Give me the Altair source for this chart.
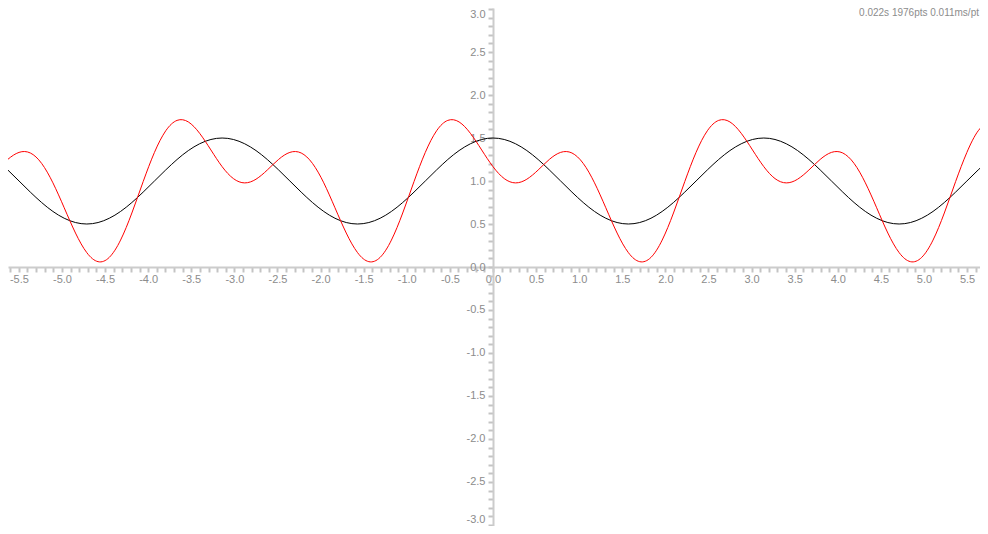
import altair as alt
import pandas as pd

# sample positions (x)
x_values = [-5.760, -5.629, -5.498, -5.367, -5.236, -5.105, -4.974, -4.843, -4.712, -4.581,
            -4.451, -4.320, -4.189, -4.058, -3.927, -3.796, -3.665, -3.534, -3.403, -3.272,
            -3.142, -3.011, -2.880, -2.749, -2.618, -2.487, -2.356, -2.225, -2.094, -1.963,
            -1.833, -1.702, -1.571, -1.440, -1.309, -1.178, -1.047, -0.916, -0.785, -0.654,
            -0.524, -0.393, -0.262, -0.131, 0.000, 0.131, 0.262, 0.393, 0.524, 0.654,
            0.785, 0.916, 1.047, 1.178, 1.309, 1.440, 1.571, 1.702, 1.833, 1.963,
            2.094, 2.225, 2.356, 2.487, 2.618, 2.749, 2.880, 3.011, 3.142, 3.272,
            3.403, 3.534, 3.665, 3.796, 3.927, 4.058, 4.189, 4.320, 4.451, 4.581,
            4.712, 4.843, 4.974, 5.105, 5.236, 5.367, 5.498, 5.629, 5.760]

black_values = [1.25, 1.129, 1.0, 0.871, 0.75, 0.646, 0.567, 0.517, 0.5, 0.517,
                0.567, 0.646, 0.75, 0.871, 1.0, 1.129, 1.25, 1.354, 1.433, 1.483,
                1.5, 1.483, 1.433, 1.354, 1.25, 1.129, 1.0, 0.871, 0.75, 0.646,
                0.567, 0.517, 0.5, 0.517, 0.567, 0.646, 0.75, 0.871, 1.0, 1.129,
                1.25, 1.354, 1.433, 1.483,
                1.5, 1.483, 1.433, 1.354, 1.25, 1.129, 1.0, 0.871, 0.75, 0.646,
                0.567, 0.517, 0.5, 0.517, 0.567, 0.646, 0.75, 0.871, 1.0, 1.129,
                1.25, 1.354, 1.433, 1.483,
                1.5, 1.483, 1.433, 1.354, 1.25, 1.129, 1.0, 0.871, 0.75, 0.646,
                0.567, 0.517, 0.5, 0.517, 0.567, 0.646, 0.75, 0.871, 1.0, 1.129, 1.25]

red_values = [1.128, 1.251, 1.333, 1.326, 1.205, 0.979, 0.689, 0.395, 0.167, 0.062,
              0.112, 0.313, 0.628, 0.993, 1.333, 1.584, 1.705, 1.687, 1.555, 1.361,
              1.167, 1.028, 0.978, 1.021, 1.128, 1.251, 1.333, 1.326, 1.205, 0.979,
              0.689, 0.395, 0.167, 0.062, 0.112, 0.313, 0.628, 0.993, 1.333, 1.584,
              1.705, 1.687, 1.555, 1.361,
              1.167, 1.028, 0.978, 1.021, 1.128, 1.251, 1.333, 1.326, 1.205, 0.979,
              0.689, 0.395, 0.167, 0.062, 0.112, 0.313, 0.628, 0.993, 1.333, 1.584,
              1.705, 1.687, 1.555, 1.361,
              1.167, 1.028, 0.978, 1.021, 1.128, 1.251, 1.333, 1.326, 1.205, 0.979,
              0.689, 0.395, 0.167, 0.062, 0.112, 0.313, 0.628, 0.993, 1.333, 1.584, 1.705]

x_labels = [-5.5, -5.0, -4.5, -4.0, -3.5, -3.0, -2.5, -2.0, -1.5, -1.0, -0.5, 0.0,
            0.5, 1.0, 1.5, 2.0, 2.5, 3.0, 3.5, 4.0, 4.5, 5.0, 5.5]
y_labels = [-3.0, -2.5, -2.0, -1.5, -1.0, -0.5, 0.0, 0.5, 1.0, 1.5, 2.0, 2.5, 3.0]
x_minor_ticks = [round(i / 10, 1) for i in range(-56, 57)]
y_minor_ticks = [round(i / 10, 1) for i in range(-30, 31)]

info_text = "0.022s 1976pts 0.011ms/pt"

W, H = 972, 518
X_DOMAIN = [-5.626, 5.650]
Y_DOMAIN = [-3.012, 3.012]
X0_PX = 485   # pixel of x = 0 in plot
Y0_PX = 259   # pixel of y = 0 in plot

n = len(x_values)
df = pd.DataFrame({
    "x": x_values + x_values,
    "y": black_values + red_values,
    "series": ["black"] * n + ["red"] * n,
})

label_expr = ("abs(datum.value*2 - round(datum.value*2)) < 0.001 ? "
              "(datum.value < 0 ? '-' : '') + format(abs(datum.value), '.1f') : ''")

axis_common = dict(
    domainColor="#cccccc", domainWidth=2,
    tickColor="#c4c4c4", tickWidth=2, tickSize=5,
    labelColor="#8c8c8c", labelFontSize=11, labelFont="Liberation Sans",
    grid=False, title=None, labelOverlap=False, labelFlush=False,
    labelExpr=label_expr,
)

x_enc = alt.X("x:Q",
              scale=alt.Scale(domain=X_DOMAIN, nice=False, zero=False),
              axis=alt.Axis(values=x_minor_ticks, orient="bottom", offset=-(H - Y0_PX),
                            labelPadding=1, **axis_common))
y_enc = alt.Y("y:Q",
              scale=alt.Scale(domain=Y_DOMAIN, nice=False, zero=False),
              axis=alt.Axis(values=y_minor_ticks, orient="left", offset=-X0_PX,
                            labelPadding=3,
                            labelOffset={"condition": [
                                {"test": "datum.value > 2.95", "value": 5},
                                {"test": "datum.value < -2.95", "value": -5}],
                                "value": 0},
                            **axis_common))

lines = alt.Chart(df).mark_line(clip=True, strokeWidth=1, interpolate="natural").encode(
    x=x_enc,
    y=y_enc,
    color=alt.Color("series:N",
                    scale=alt.Scale(domain=["black", "red"], range=["#000000", "#ff0000"]),
                    legend=None),
)

info = alt.Chart(pd.DataFrame({"t": [info_text]})).mark_text(
    align="right", baseline="top", fontSize=10, color="#8c8c8c", font="Liberation Sans"
).encode(x=alt.value(W - 1), y=alt.value(0), text="t:N")

chart = alt.layer(lines, info).properties(
    width=W, height=H,
    autosize=alt.AutoSizeParams(type="none"),
    padding=0,
).configure_view(stroke="transparent")

chart.save("out.html", embed_options={"renderer": "svg", "actions": False})
